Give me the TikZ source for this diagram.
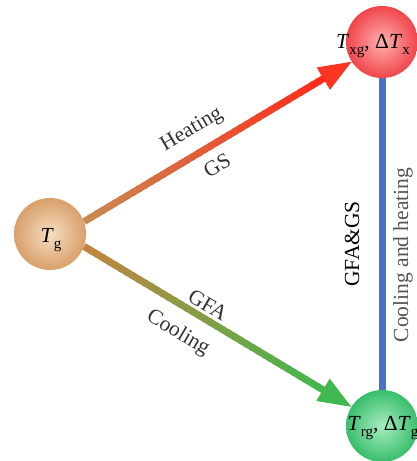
\documentclass[tikz,border=0pt]{standalone}
\usepackage{fontspec}
\setmainfont{Liberation Serif}
\usetikzlibrary{calc}

\definecolor{tanin}{HTML}{F6DEC2}
\definecolor{tanout}{HTML}{D8A06A}
\definecolor{redin}{HTML}{FFB0B0}
\definecolor{redout}{HTML}{F0454A}
\definecolor{grnin}{HTML}{A8ECC0}
\definecolor{grnout}{HTML}{38BE6C}
\definecolor{hotstart}{HTML}{C98A52}
\definecolor{hotend}{HTML}{FF2A18}
\definecolor{coolstart}{HTML}{C4843E}
\definecolor{coolend}{HTML}{40B84E}
\definecolor{linkblue}{HTML}{4A70C8}
\definecolor{labelgray}{HTML}{333333}
\definecolor{notegray}{HTML}{555555}

\pgfdeclarelayer{under}
\pgfsetlayers{under,main}

% lowered roman subscript
\newcommand\sbs[1]{\raisebox{-0.28em}{\fontsize{15}{15}\selectfont #1}}

\tikzset{
  phase/.style={circle, minimum size=72pt, inner sep=0pt, draw=none},
  txt/.style={font=\fontsize{21.5}{24}\selectfont, inner sep=0pt},
  arrowlabel/.style={txt, text=labelgray},
}

% gradient shaft from #1 to #2 with colours #3 -> #4, then a solid head in #5
\newcommand\gradarrow[5]{%
  \coordinate (ab) at ($(#2)!33pt!(#1)$);
  \foreach \i in {0,...,39} {
    \pgfmathsetmacro\fa{\i/40}
    \pgfmathsetmacro\fb{(\i+1.4)/40}
    \pgfmathtruncatemacro\pc{100*(\i+0.5)/40}
    \draw[line width=7pt, draw=#4!\pc!#3] ($(#1)!\fa!(ab)$) -- ($(#1)!\fb!(ab)$);
  }
  \fill[#5] ($(ab)!13pt!90:(#2)$) -- (#2) -- ($(ab)!13pt!-90:(#2)$) -- cycle;
}

\begin{document}
\begin{tikzpicture}[x=1pt, y=-1pt]
\useasboundingbox (0,0) rectangle (417,461);
\clip (0,0) rectangle (417,461);

% the three states
\node[phase, inner color=tanin, outer color=tanout] (tg) at (50,234) {};
\node[phase, inner color=redin, outer color=redout] (xg) at (382,42) {};
\node[phase, inner color=grnin, outer color=grnout] (rg) at (382,426) {};

\node[txt, anchor=base] (tgl) at (51,242) {\textit{T}\sbs{g}};
\node[txt, anchor=base] (xgl) at (373,48) {\textit{T}\sbs{xg}, Δ\textit{T}\sbs{x}};
\node[txt, anchor=base] (rgl) at (383,430) {\textit{T}\sbs{rg}, Δ\textit{T}\sbs{g}};

% connectors, kept beneath the circles
\begin{pgfonlayer}{under}
  \fill[white] (0,0) rectangle (417,461);
  \coordinate (hs) at (tg.20);
  \coordinate (ht) at (xg.213);
  \gradarrow{hs}{ht}{hotstart}{hotend}{hotend!95!white}
  \coordinate (cs) at (tg.-20);
  \coordinate (ct) at (rg.148);
  \gradarrow{cs}{ct}{coolstart}{coolend}{coolend}
  \draw[line width=7pt, linkblue] (xg.south) -- (rg.north);
\end{pgfonlayer}

% labels
\node[arrowlabel, rotate=30.7] (heat) at (192,130) {Heating};
\node[arrowlabel, rotate=30.7] (gs) at (217,165) {GS};
\node[arrowlabel, rotate=-30.7] (gfa) at (208,305) {GFA};
\node[arrowlabel, rotate=-30.7] (cool) at (178,333) {Cooling};
\node[txt, rotate=90, text=black] (both) at (352,244) {GFA\&GS};
\node[txt, rotate=90, text=notegray] (ch) at (403,255) {Cooling and heating};
\end{tikzpicture}
\end{document}
